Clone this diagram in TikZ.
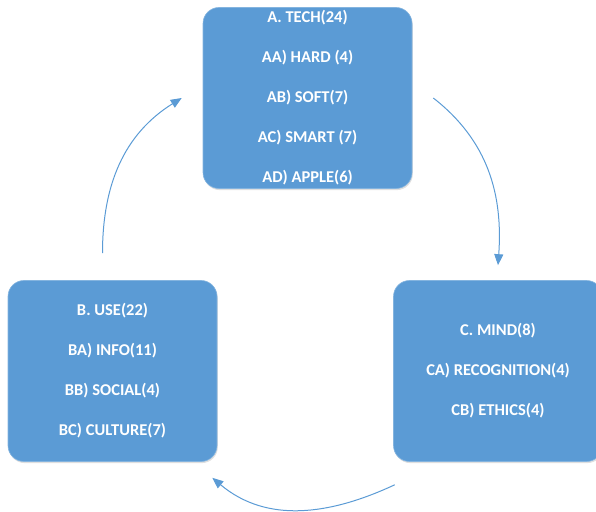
\documentclass[tikz,border=0pt]{standalone}
\usepackage{fontspec}
\setmainfont{Carlito}
\usetikzlibrary{arrows.meta, positioning, shadows}
\definecolor{boxblue}{HTML}{5B9BD5}
\tikzset
{
topic/.style={fill=boxblue, draw=boxblue!75!white, line width=0.6pt, rounded corners=16pt,
	minimum width=209pt, minimum height=181pt, inner sep=0pt, text=white, align=center,
	font=\fontsize{16.5}{40}\selectfont\bfseries,
	drop shadow={shadow xshift=0.8pt, shadow yshift=-1.6pt, opacity=0.25, fill=black!50}},
link/.style={draw=boxblue, line width=1pt, -{Triangle[length=11pt, width=9pt]}}
}

\begin{document}
\begin{tikzpicture}[x=1pt, y=1pt]
		\useasboundingbox (0,0) rectangle (596,511);

		\node[topic] (tech) at (307.5,413) {A. TECH(24)\\AA) HARD (4)\\AB) SOFT(7)\\AC) SMART (7)\\AD) APPLE(6)};
		\node[topic] (use) at (112.5,140) {B. USE(22)\\BA) INFO(11)\\BB) SOCIAL(4)\\BC) CULTURE(7)};
		\node[topic] (mind) at (498,140) {C. MIND(8)\\CA) RECOGNITION(4)\\CB) ETHICS(4)};

		\coordinate[above=27pt of use.north, xshift=-10pt] (useout);
		\coordinate[left=21pt of tech.west] (techin);
		\coordinate[right=21pt of tech.east] (techout);
		\coordinate[above=15pt of mind.north] (mindin);
		\coordinate[below=23pt of mind.south west, xshift=1.5pt] (mindout);
		\coordinate[below=16pt of use.south east, xshift=-5pt] (usein);

		\draw[link] (useout) to[out=90, in=212] (techin);
		\draw[link] (techout) to[out=-38, in=86] (mindin);
		\draw[link] (mindout) to[out=205, in=-40] (usein);
	\end{tikzpicture}
\end{document}
